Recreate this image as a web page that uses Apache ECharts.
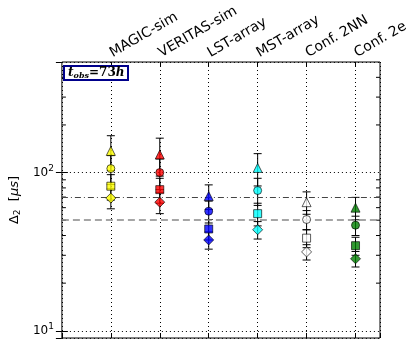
<!DOCTYPE html>
<html><head><meta charset="utf-8">
<script src="https://cdn.jsdelivr.net/npm/echarts@6/dist/echarts.min.js"></script>
<style>html,body{margin:0;padding:0;background:#fff}#c{width:415px;height:346px}</style>
</head><body><div id="c"></div>
<script>
const categories = ['MAGIC-sim','VERITAS-sim','LST-array','MST-array','Conf. 2NN','Conf. 2e'];
const triangleVals = [137, 130, 71, 107, 65, 60];
const triangleErr  = [34, 35, 12.6, 24.7, 10.5, 9.7];
const circleVals   = [106, 100, 57, 77, 50.5, 46.5];
const circleErr    = [22, 22, 9, 15, 7, 6.5];
const squareVals   = [82, 78, 44, 55, 38.5, 34.5];
const squareErr    = [15, 14, 6.5, 9, 5, 4.5];
const diamondVals  = [69, 65, 37.5, 43.5, 31.5, 28.5];
const diamondErr   = [10, 10, 4.7, 5.5, 3.5, 3.2];
const refDashDot = 70;
const refDashed = 50;
const yMinorTicks = [20,30,40,50,60,70,80,90,200,300,400];
const yMajorLabels = {1:'10{s|1}', 2:'10{s|2}'};
const colors = ['#ffff00','#ff0000','#0000ff','#00ffff','#ffffff','#008000'];
const X_MIN = 0, X_MAX = 6.5;

const groups = [
  {vals: triangleVals, err: triangleErr, symbol: 'triangle', size: 9},
  {vals: circleVals, err: circleErr, symbol: 'circle', size: 8},
  {vals: squareVals, err: squareErr, symbol: 'rect', size: 8},
  {vals: diamondVals, err: diamondErr, symbol: 'diamond', size: [10,10]}
];

function errRender(params, api){
  const x = api.value(0), lo = api.value(1), hi = api.value(2);
  const a = api.coord([x, hi]), b = api.coord([x, lo]);
  const hw = 4, st = {stroke:'#000', lineWidth:1};
  return {type:'group', children:[
    {type:'line', shape:{x1:a[0],y1:a[1],x2:b[0],y2:b[1]}, style:st},
    {type:'line', shape:{x1:a[0]-hw,y1:a[1],x2:a[0]+hw,y2:a[1]}, style:st},
    {type:'line', shape:{x1:b[0]-hw,y1:b[1],x2:b[0]+hw,y2:b[1]}, style:st}
  ]};
}
function minorRender(params, api){
  const v = api.value(0);
  const l = api.coord([X_MIN, v]), r = api.coord([X_MAX, v]);
  const st = {stroke:'#000', lineWidth:1};
  return {type:'group', children:[
    {type:'line', shape:{x1:l[0],y1:l[1],x2:l[0]+4,y2:l[1]}, style:st},
    {type:'line', shape:{x1:r[0],y1:r[1],x2:r[0]-4,y2:r[1]}, style:st}
  ]};
}

const series = [];
groups.forEach((g, gi) => {
  series.push({
    type:'custom', renderItem: errRender, z: 3, silent: true,
    data: g.vals.map((v,i) => [i+1, v - g.err[i], v + g.err[i]])
  });
});
groups.forEach((g, gi) => {
  series.push({
    type:'scatter', symbol: g.symbol, symbolSize: g.size, z: 5,
    data: g.vals.map((v,i) => ({value:[i+1, v], itemStyle:{color: colors[i], borderColor:'#000', borderWidth:0.8}})),
    markLine: gi === 0 ? {
      silent: true, symbol: 'none', label: {show:false}, animation:false,
      data: [
        {yAxis: refDashDot, lineStyle:{color:'#444', width:1, type:[6,3,1,3]}},
        {yAxis: refDashed, lineStyle:{color:'#888', width:1.5, type:[7,4]}}
      ]
    } : undefined
  });
});
series.push({type:'custom', renderItem: minorRender, z: 4, silent: true, data: yMinorTicks.map(v => [v])});

const chart = echarts.init(document.getElementById('c'));
chart.setOption({
  animation: false,
  backgroundColor: '#fff',
  title: {
    text: '{t|t}{sub|obs}{n|=73}{t|h}',
    left: 64, top: 65, padding: [1,4,0,4],
    borderColor: '#00008b', borderWidth: 2, backgroundColor:'#fff',
    textStyle: { rich: {
      t: {fontFamily:'DejaVu Serif', fontStyle:'italic', fontSize:12, color:'#000'},
      sub: {fontFamily:'DejaVu Serif', fontStyle:'italic', fontSize:8, color:'#000', padding:[6,0,0,0]},
      n: {fontFamily:'DejaVu Serif', fontSize:12, color:'#000'}
    }}
  },
  grid: {left: 58, right: 35, top: 62, bottom: 8, show: true, borderColor:'#000', borderWidth:1, backgroundColor:'transparent'},
  xAxis: [{
    type:'value', position:'top', min: X_MIN, max: X_MAX, interval: 1,
    axisLine:{show:false},
    axisTick:{show:true, inside:true, length:5, lineStyle:{color:'#000'}},
    splitLine:{show:true, lineStyle:{color:'#000', type:[1,3], width:1}},
    axisLabel:{
      rotate: -30, margin: 8, fontFamily:'DejaVu Sans', fontSize: 14, color:'#000',
      showMaxLabel:false, showMinLabel:false,
      formatter: v => categories[Math.round(v)-1] || ''
    }
  },{
    type:'value', position:'bottom', min: X_MIN, max: X_MAX, interval: 1,
    axisLine:{show:false}, axisTick:{show:true, inside:true, length:5, lineStyle:{color:'#000'}},
    axisLabel:{show:false}, splitLine:{show:false}
  }],
  yAxis: [{
    type:'log', logBase:10, min: 9, max: 500,
    axisLine:{show:false},
    axisTick:{show:true, inside:true, length:6, lineStyle:{color:'#000'}},
    splitLine:{show:true, lineStyle:{color:'#000', type:[1,3], width:1}},
    axisLabel:{
      fontFamily:'DejaVu Sans', fontSize: 12, color:'#000', margin: 8,
      showMinLabel:false, showMaxLabel:false,
      formatter: v => { const e = Math.round(Math.log10(v)); return (Math.abs(Math.log10(v)-e) < 1e-6 && yMajorLabels[e]) ? yMajorLabels[e] : ''; },
      rich: {s: {fontSize: 9, fontFamily:'DejaVu Sans', color:'#000', padding:[0,0,8,0]}}
    },
    name: '{d|Δ}{sub|2}{n|  [}{i|μs}{n|]}',
    nameLocation:'middle', nameRotate: 90, nameGap: 38,
    nameTextStyle: { rich: {
      d: {fontFamily:'DejaVu Sans', fontSize:13, color:'#000'},
      sub: {fontFamily:'DejaVu Sans', fontSize:9, color:'#000', padding:[6,0,0,0]},
      n: {fontFamily:'DejaVu Sans', fontSize:13, color:'#000'},
      i: {fontFamily:'DejaVu Sans', fontStyle:'italic', fontSize:13, color:'#000'}
    }}
  },{
    type:'log', logBase:10, min: 9, max: 500, position:'right',
    axisLine:{show:false},
    axisTick:{show:true, inside:true, length:6, lineStyle:{color:'#000'}},
    splitLine:{show:false}, axisLabel:{show:false}
  }],
  series: series
});
</script></body></html>
